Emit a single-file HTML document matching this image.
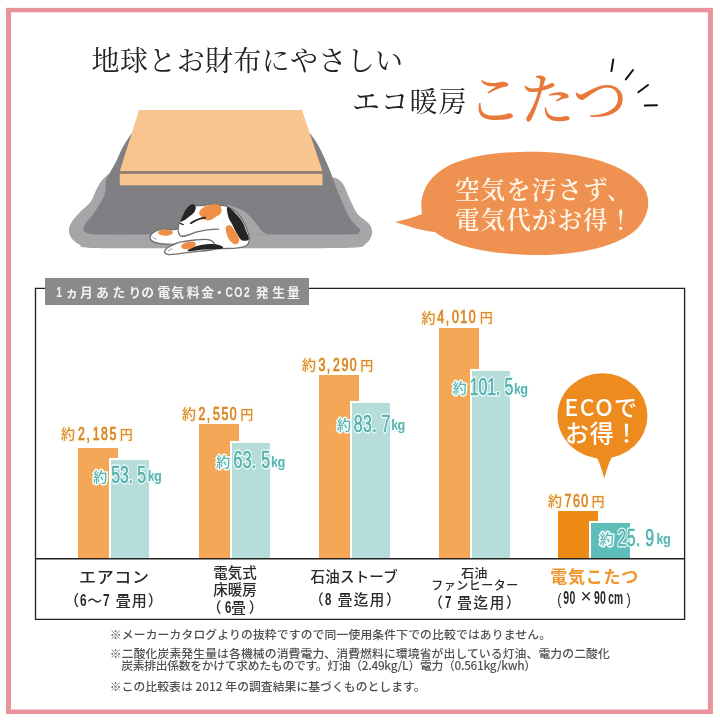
<!DOCTYPE html>
<html lang="ja">
<head>
<meta charset="utf-8">
<style>
html,body{margin:0;padding:0;}
body{width:720px;height:720px;position:relative;overflow:hidden;background:#fff;
  font-family:"Liberation Sans","Noto Sans CJK JP",sans-serif;color:#333;}
.abs{position:absolute;white-space:nowrap;}
.mincho{font-family:"Liberation Serif","Noto Serif CJK JP","Noto Serif CJK SC",serif;}
.bub{left:455px;top:175.5px;font-size:24.5px;line-height:30px;color:#FFF6E8;font-weight:600;letter-spacing:1.1px;}
.lbl{left:45px;top:278px;width:264px;height:27px;background:#8A8A8A;}
.bar{position:absolute;}
.ob{background:#F4A757;}
.tb{background:#B7DDDA;box-shadow:-2px 0 0 0 #fff,0 -2px 0 0 #fff,-2px -2px 0 0 #fff;}
.fi{position:absolute;white-space:nowrap;line-height:1.3;}
.sans{font-family:"Liberation Sans","Noto Sans CJK JP",sans-serif;}
.cd{display:inline-block;font-family:"Liberation Sans",sans-serif;font-weight:700;font-size:1.13em;transform:scaleX(0.7);transform-origin:0 0;width:0.415em;}
.cdp{display:inline-block;font-family:"Liberation Sans",sans-serif;font-size:1.13em;transform:scaleX(0.8);transform-origin:0 0;width:0.3em;}
.cjk{font-family:"Noto Sans CJK JP","Noto Sans CJK SC",sans-serif;}
</style>
</head>
<body>
<svg class="abs" style="left:0;top:0" width="720" height="720"><g fill="#E9949C"><rect x="6" y="7.9" width="707" height="4.4"/><rect x="6" y="709.5" width="707" height="4.5"/><rect x="6" y="7.9" width="5" height="706.1"/><rect x="707.9" y="7.9" width="5" height="706.1"/></g></svg>


<svg class="abs" style="left:0;top:0" width="720" height="720" viewBox="0 0 720 720">
  <!-- rays -->
  <g stroke="#111" stroke-width="2" stroke-linecap="round">
    <line x1="613.3" y1="59.4" x2="611.4" y2="71.1"/>
    <line x1="633" y1="70" x2="625.8" y2="79.4"/>
    <line x1="648" y1="85" x2="638.3" y2="92.2"/>
    <line x1="644.8" y1="105.6" x2="657" y2="105.2"/>
  </g>
<path d="M108.8,173.8 C107.5,175.0 103.3,178.5 101.2,181.2 C99.2,184.0 98.0,186.5 96.2,190.0 C94.5,193.5 93.0,198.5 90.5,202.0 C88.0,205.5 84.0,207.9 81.0,211.0 C78.0,214.1 74.5,217.8 72.5,220.8 C70.5,223.8 69.2,226.4 69.0,229.2 C68.8,232.0 69.4,235.0 71.1,237.5 C72.8,240.0 75.5,242.7 79.4,244.4 C83.3,246.1 74.6,247.3 94.7,247.9 C114.8,248.5 165.8,248.1 200.0,248.2 C234.2,248.2 274.2,248.3 300.0,248.2 C325.8,248.1 344.0,248.4 355.0,247.6 C366.0,246.8 363.2,245.4 366.0,243.5 C368.8,241.6 370.6,238.6 371.5,236.0 C372.4,233.4 372.3,230.4 371.5,228.0 C370.7,225.6 368.6,223.4 366.7,221.5 C364.8,219.6 361.9,218.2 360.0,216.5 C358.1,214.8 357.4,214.0 355.6,211.0 C353.9,208.0 351.6,202.9 349.5,198.5 C347.4,194.1 345.4,187.8 343.3,184.5 C341.2,181.2 339.0,179.8 337.0,178.6 C335.0,177.4 332.4,177.4 331.5,177.2 L326,184 L115,184 Z" fill="#A6A6A8"/>
  <path d="M132.5,131.9 C130.8,134.5 125.2,142.6 122.5,147.5 C119.8,152.4 118.4,157.1 116.3,161.3 C114.2,165.5 111.7,169.4 110.0,172.5 C108.3,175.6 107.1,176.6 106.2,180.0 C105.4,183.4 105.8,189.5 105.0,193.0 C104.2,196.5 103.5,197.5 101.5,201.0 C99.5,204.5 96.0,210.2 93.3,213.9 C90.6,217.7 87.1,220.8 85.5,223.5 C83.9,226.2 83.1,228.2 83.5,229.9 C83.9,231.6 85.0,232.6 88.0,233.4 C91.0,234.2 89.7,234.4 101.7,234.6 C113.7,234.8 139.9,234.6 160.0,234.6 C180.1,234.6 211.7,234.6 222.0,234.6 L268.9,234.5 L268.9,234.5 C274.1,234.5 286.0,234.5 300.0,234.5 C314.0,234.5 343.2,234.6 353.0,234.3 C362.8,234.0 357.7,233.4 358.8,232.5 C359.9,231.6 360.8,231.1 359.5,229.0 C358.2,226.9 353.7,224.1 351.0,220.0 C348.3,215.9 345.7,209.6 343.3,204.4 C340.9,199.2 338.8,194.2 336.7,189.0 C334.6,183.8 333.1,178.5 331.0,173.3 C328.9,168.1 326.6,162.6 324.4,157.8 C322.2,153.0 320.2,148.5 317.8,144.4 C315.4,140.3 311.3,135.2 310.0,133.3 L132.5,131.9 Z" fill="#807F84"/>
  <path d="M222.0,234.6 C222.2,231.3 222.2,219.8 223.0,215.0 C223.8,210.2 224.7,206.9 226.7,205.6 C228.7,204.3 232.4,206.4 235.0,207.2 C237.6,208.0 240.0,209.0 242.2,210.2 C244.4,211.4 246.3,213.1 248.0,214.5 C249.7,215.9 250.8,217.3 252.2,218.9 C253.6,220.5 255.2,222.3 256.5,224.0 C257.8,225.7 258.8,227.5 260.0,228.9 C261.2,230.3 262.5,231.6 264.0,232.5 C265.5,233.4 268.1,234.2 268.9,234.5 Z" fill="#A6A6A8"/>
  <path d="M139,110 L302,110 L322.5,171.2 L119.8,171.2 Z" fill="#F8C490"/>
  <rect x="119.8" y="171.2" width="202.7" height="2.6" fill="#927A72"/>
  <rect x="119.8" y="173.8" width="202.7" height="11.5" fill="#F8C490"/>
  <path d="M150.0,237.5 C150.1,236.0 151.4,233.9 153.3,232.5 C155.2,231.1 158.2,229.7 161.7,229.2 C165.2,228.7 171.4,229.8 174.2,229.6 C177.0,229.4 177.6,228.9 178.3,228.0 C179.0,227.1 178.1,225.2 178.5,224.0 C178.9,222.8 179.4,222.8 180.5,221.0 C181.6,219.2 183.3,215.7 185.0,213.0 C186.7,210.3 188.8,206.2 190.5,205.0 C192.2,203.8 192.9,205.4 195.0,205.5 C197.1,205.6 200.2,205.7 203.0,205.5 C205.8,205.3 208.6,204.2 211.7,204.2 C214.8,204.2 219.1,205.1 221.7,205.5 C224.3,205.9 225.0,205.4 227.5,206.6 C230.0,207.8 233.9,209.8 236.7,212.5 C239.4,215.2 242.1,219.1 244.0,222.5 C245.9,225.9 247.4,230.1 248.3,233.0 C249.2,235.9 249.7,237.9 249.4,240.0 C249.1,242.1 248.4,244.2 246.5,245.5 C244.6,246.8 241.8,247.3 238.0,247.8 C234.2,248.3 229.5,248.4 224.0,248.6 C218.5,248.8 210.7,249.1 205.0,249.2 C199.3,249.3 194.2,249.9 190.0,249.0 C185.8,248.1 182.9,244.6 180.0,243.8 C177.1,243.0 175.8,244.4 172.5,244.4 C169.2,244.4 163.2,244.1 160.0,243.6 C156.8,243.1 154.7,242.6 153.0,241.6 C151.3,240.6 149.9,239.0 150.0,237.5 Z" fill="#fff" stroke="#707070" stroke-width="1.3"/>
  <path d="M164.6,251.8 C164.6,250.7 166.1,248.9 167.5,247.8 C168.9,246.7 170.9,245.9 173.0,245.0 C175.1,244.1 176.3,243.0 180.0,242.2 C183.7,241.4 190.3,240.4 195.0,240.0 C199.7,239.6 204.8,239.1 208.0,239.6 C211.2,240.1 213.0,241.4 214.0,243.0 C215.0,244.6 216.3,247.9 214.0,249.3 C211.7,250.7 204.8,250.6 200.0,251.2 C195.2,251.8 189.2,252.3 185.0,252.8 C180.8,253.3 177.9,253.9 175.0,254.2 C172.1,254.5 169.2,254.8 167.5,254.4 C165.8,254.0 164.6,252.9 164.6,251.8 Z" fill="#fff" stroke="#707070" stroke-width="1.3"/>
  <path d="M180.8,221.5 C180.4,220.8 181.9,217.3 183.0,215.0 C184.1,212.7 185.9,209.3 187.5,207.5 C189.1,205.7 191.1,204.3 192.5,204.2 C193.9,204.1 195.5,205.7 195.8,207.0 C196.1,208.3 195.2,210.7 194.2,212.2 C193.2,213.7 191.4,214.8 190.0,216.0 C188.6,217.2 187.0,218.6 185.5,219.5 C184.0,220.4 181.2,222.2 180.8,221.5 Z" fill="#252525"/>
  <path d="M199.2,212.6 C199.3,210.6 201.7,208.4 204.0,207.0 C206.3,205.6 210.6,204.6 213.3,204.3 C216.0,204.1 218.7,204.2 220.0,205.5 C221.3,206.8 221.9,210.4 221.3,212.2 C220.8,214.0 218.7,215.0 216.7,216.3 C214.7,217.7 211.4,219.9 209.2,220.3 C207.0,220.7 205.0,220.1 203.3,218.8 C201.6,217.5 199.1,214.6 199.2,212.6 Z" fill="#EF8F45"/>
  <path d="M227.5,207.0 C228.9,206.6 234.2,212.0 236.7,214.5 C239.2,217.0 241.0,219.6 242.5,222.0 C244.0,224.4 244.5,226.3 245.5,229.2 C246.5,232.1 249.4,237.4 248.8,239.2 C248.1,241.0 243.7,241.2 241.7,240.2 C239.7,239.2 238.1,235.7 236.5,233.0 C234.9,230.3 233.4,226.7 232.0,224.0 C230.6,221.3 229.1,219.5 228.3,216.7 C227.6,213.9 226.1,207.4 227.5,207.0 Z" fill="#252525"/>
  <path d="M225.8,227.5 C226.2,225.6 228.6,224.6 230.0,225.0 C231.4,225.4 232.9,228.2 234.2,230.0 C235.5,231.8 237.2,234.2 238.0,236.0 C238.8,237.8 239.4,239.1 239.2,240.5 C239.0,241.9 237.9,243.9 236.7,244.2 C235.4,244.5 233.2,243.8 231.7,242.5 C230.2,241.2 228.5,239.0 227.5,236.5 C226.5,234.0 225.4,229.4 225.8,227.5 Z" fill="#EF8F45"/>
  <path d="M187.5,250.7 C188.0,250.0 192.1,247.6 195.0,246.6 C197.9,245.6 201.5,244.8 205.0,244.4 C208.5,244.0 212.9,243.8 215.8,244.2 C218.7,244.5 221.6,245.8 222.5,246.5 C223.4,247.2 223.9,248.2 221.0,248.7 C218.1,249.2 209.8,249.2 205.0,249.6 C200.2,250.0 194.9,250.8 192.0,251.0 C189.1,251.2 187.0,251.4 187.5,250.7 Z" fill="#252525"/>
  <ellipse cx="165.5" cy="232.6" rx="7.5" ry="3.2" fill="#EF8F45"/>
  <ellipse cx="188.5" cy="245.4" rx="7.5" ry="3.6" transform="rotate(-12 188.5 245.4)" fill="#EF8F45"/>
  <path d="M178.6,225.2 C177.6,229.5 178,233 180,235.5 C182,237.6 186,236.2 195,232.4 C203,230.2 211,229.4 218.5,229.2" stroke="#707070" stroke-width="1.3" fill="none" stroke-linecap="round"/>
  <path d="M190.8,223.2 C195,220.3 200,218.2 205.2,217.6" stroke="#222" stroke-width="1.7" fill="none" stroke-linecap="round"/>
  <path d="M180.2,223.4 L183.2,224.6" stroke="#222" stroke-width="1.4" fill="none" stroke-linecap="round"/>
  <path d="M152.5,237 C153.5,238.5 155,239 156.5,239" stroke="#8a8a8a" stroke-width="0.9" fill="none"/>
  <path d="M168,251 C169.5,249.5 171,249 172.5,249" stroke="#8a8a8a" stroke-width="0.9" fill="none"/>
  <!-- speech bubble -->
  <path d="M395,222 C405,220 414,217 422,214 C419,196 426,176 452,164 C480,152 520,151 545,152 C590,154 625,166 641,184 C652,196 650,214 638,228 C620,246 580,255 540,255 C495,255 455,248 435,232 C422,231 408,226 395,222 Z" fill="#EF9151"/>

  <!-- ECO bubble -->
  <ellipse cx="602.5" cy="415.8" rx="45" ry="42.6" fill="#EE8B1F"/><path d="M595.5,455 L599,462 Q602,470 604.3,478.5 Q606.5,470 609.5,462 L613,455 Z" fill="#EE8B1F"/>
</svg>

<div class="abs mincho bub">空気を汚さず、<br>電気代がお得！</div>

<div class="lbl abs"></div>
<svg class="abs" style="left:0;top:0" width="720" height="720" viewBox="0 0 720 720"><text x="65.4 79.9 96.1 112.4 128.6 141.2 157.5 171.2 186.7 201.3 255.8 272.3 286.9" y="296.6" font-size="12.8" fill="#F2F2F2" font-weight="700" font-family="'Noto Sans CJK JP',sans-serif">ヵ月あたりの電気料金発生量</text><text x="213.1" y="296.6" font-size="12.8" fill="#F2F2F2" font-weight="700" font-family="'Noto Sans CJK JP',sans-serif">・</text><g transform="scale(0.72,1)"><text x="78.2 313.2 325.4 338.9" y="297" font-size="14.5" font-weight="700" fill="#F2F2F2" font-family="'Liberation Sans',sans-serif">1CO2</text></g></svg>

<!-- bars -->
<div class="bar ob" style="left:78px;top:448px;width:40px;height:111px;"></div>
<div class="bar tb" style="left:111px;top:460px;width:38px;height:99px;"></div>
<div class="bar ob" style="left:199px;top:424px;width:40px;height:135px;"></div>
<div class="bar tb" style="left:232px;top:443px;width:38px;height:116px;"></div>
<div class="bar ob" style="left:319px;top:375px;width:40px;height:184px;"></div>
<div class="bar tb" style="left:351.5px;top:403px;width:38.5px;height:156px;"></div>
<div class="bar ob" style="left:438.5px;top:327.5px;width:40px;height:231.5px;"></div>
<div class="bar tb" style="left:471.5px;top:370.5px;width:38.5px;height:188.5px;"></div>
<div class="bar" style="left:558.3px;top:511px;width:39.6px;height:48px;background:#EE8B14;"></div>
<div class="bar" style="left:591px;top:522.5px;width:38.6px;height:36.5px;background:#5DBDB8;box-shadow:-2px 0 0 0 #fff,0 -2px 0 0 #fff,-2px -2px 0 0 #fff;"></div>

<!-- chart frame -->
<svg class="abs" style="left:0;top:0" width="720" height="720"><g stroke="#222" fill="none">
<path d="M45,288.3 H35.5 V619.3 H684.6 V288.3 H309" stroke-width="1.35"/>
<path d="M35.5,558.8 H684.6" stroke-width="1.6"/>
</g></svg>

<!-- value labels -->
<svg class="abs" style="left:0;top:0" width="720" height="720" viewBox="0 0 720 720">
<style>
.ok{font-family:"Liberation Sans","Noto Sans CJK JP",sans-serif;font-weight:500;fill:#D98A30;stroke:#FFF8E6;stroke-width:3;paint-order:stroke;stroke-linejoin:round;}
.od{font-family:"Liberation Sans",sans-serif;font-weight:400;fill:#D98A30;stroke:#FFF8E6;stroke-width:3;paint-order:stroke;stroke-linejoin:round;}
.tk{font-family:"Liberation Sans","Noto Sans CJK JP",sans-serif;font-weight:500;fill:#5EB2AE;stroke:#F0FFFF;stroke-width:3;paint-order:stroke;stroke-linejoin:round;}
.td{font-family:"Liberation Sans",sans-serif;font-weight:400;fill:#5EB2AE;stroke:#F0FFFF;stroke-width:3;paint-order:stroke;stroke-linejoin:round;}
.tkg{font-family:"Liberation Sans",sans-serif;font-weight:700;fill:#5EB2AE;stroke:#F0FFFF;stroke-width:3;paint-order:stroke;stroke-linejoin:round;}
.od.em{stroke:#D98A30;stroke-width:0.45;vector-effect:non-scaling-stroke;}
.td.em{stroke:#5EB2AE;stroke-width:0.25;vector-effect:non-scaling-stroke;}
</style>
<text class="ok" x="60.9" y="439.0" font-size="14">約</text>
<text class="od" transform="scale(0.65,1)" x="120.15 133.08 142.62 155.54 168.46" y="440.0" font-size="19.0">2,185</text><text class="od em" transform="scale(0.65,1)" x="120.15 133.08 142.62 155.54 168.46" y="440.0" font-size="19.0">2,185</text>
<text class="ok" x="119.7" y="439.0" font-size="13">円</text>
<text class="ok" x="182.0" y="419.0" font-size="14">約</text>
<text class="od" transform="scale(0.65,1)" x="305.23 318.15 327.69 340.62 353.54" y="420.0" font-size="19.0">2,550</text><text class="od em" transform="scale(0.65,1)" x="305.23 318.15 327.69 340.62 353.54" y="420.0" font-size="19.0">2,550</text>
<text class="ok" x="240.3" y="418.7" font-size="13">円</text>
<text class="ok" x="302.0" y="370.1" font-size="14">約</text>
<text class="od" transform="scale(0.65,1)" x="489.85 502.77 512.31 525.23 538.15" y="371.1" font-size="19.0">3,290</text><text class="od em" transform="scale(0.65,1)" x="489.85 502.77 512.31 525.23 538.15" y="371.1" font-size="19.0">3,290</text>
<text class="ok" x="360.3" y="369.7" font-size="13">円</text>
<text class="ok" x="421.4" y="322.5" font-size="14">約</text>
<text class="od" transform="scale(0.65,1)" x="672.77 685.69 695.23 708.15 721.08" y="323.0" font-size="19.0">4,010</text><text class="od em" transform="scale(0.65,1)" x="672.77 685.69 695.23 708.15 721.08" y="323.0" font-size="19.0">4,010</text>
<text class="ok" x="479.8" y="322.0" font-size="13">円</text>
<text class="ok" x="548.1" y="506.2" font-size="14">約</text>
<text class="od" transform="scale(0.65,1)" x="868.46 881.38 894.31" y="507.2" font-size="19.0">760</text><text class="od em" transform="scale(0.65,1)" x="868.46 881.38 894.31" y="507.2" font-size="19.0">760</text>
<text class="ok" x="591.4" y="506.2" font-size="13">円</text>
<text class="tk" x="93.3" y="481.5" font-size="14">約</text>
<text class="td" transform="scale(0.66,1)" x="168.48 181.67 194.85 208.03" y="482.6" font-size="24">53.5</text><text class="td em" transform="scale(0.66,1)" x="168.48 181.67 194.85 208.03" y="482.6" font-size="24">53.5</text>
<text class="tkg" transform="scale(0.85,1)" x="173.76 181.18" y="481.0" font-size="15">kg</text>
<text class="tk" x="216.2" y="466.7" font-size="14">約</text>
<text class="td" transform="scale(0.66,1)" x="353.79 367.83 381.87 395.91" y="468.3" font-size="24">63.5</text><text class="td em" transform="scale(0.66,1)" x="353.79 367.83 381.87 395.91" y="468.3" font-size="24">63.5</text>
<text class="tkg" transform="scale(0.85,1)" x="318.94 326.35" y="466.6" font-size="15">kg</text>
<text class="tk" x="337.0" y="430.1" font-size="14">約</text>
<text class="td" transform="scale(0.66,1)" x="535.91 549.95 563.99 578.03" y="431.7" font-size="24">83.7</text><text class="td em" transform="scale(0.66,1)" x="535.91 549.95 563.99 578.03" y="431.7" font-size="24">83.7</text>
<text class="tkg" transform="scale(0.85,1)" x="460.35 467.76" y="429.9" font-size="15">kg</text>
<text class="tk" x="452.8" y="393.4" font-size="14">約</text>
<text class="td" transform="scale(0.66,1)" x="711.82 724.96 738.11 751.25 764.39" y="395.0" font-size="24">101.5</text><text class="td em" transform="scale(0.66,1)" x="711.82 724.96 738.11 751.25 764.39" y="395.0" font-size="24">101.5</text>
<text class="tkg" transform="scale(0.85,1)" x="604.71 612.12" y="394.1" font-size="15">kg</text>
<text class="tk" x="599.8" y="544.0" font-size="14">約</text>
<text class="td" transform="scale(0.66,1)" x="935.45 949.55 963.64 977.73" y="545.6" font-size="24">25.9</text><text class="td em" transform="scale(0.66,1)" x="935.45 949.55 963.64 977.73" y="545.6" font-size="24">25.9</text>
<text class="tkg" transform="scale(0.85,1)" x="772.47 779.88" y="544.1" font-size="15">kg</text>
</svg>

<svg class="abs" style="left:0;top:0" width="720" height="720"><g fill="#2a2a2a" font-family="'Liberation Sans',sans-serif"><text transform="scale(0.8,1)" x="696.50" y="604.9" font-size="16">(</text><text transform="scale(0.6,1)" x="938.80" y="604.1" font-size="17.5" font-weight="700">9</text><text transform="scale(0.6,1)" x="949.21" y="604.1" font-size="17.5" font-weight="700">0</text><text transform="scale(0.95,1)" x="611.11" y="603.3000000000001" font-size="20">×</text><text transform="scale(0.6,1)" x="989.88" y="604.1" font-size="17.5" font-weight="700">9</text><text transform="scale(0.6,1)" x="1000.21" y="604.1" font-size="17.5" font-weight="700">0</text><text transform="scale(0.58,1)" x="1048.87" y="604.1" font-size="17.5" font-weight="700">cm</text><text transform="scale(0.8,1)" x="782.99" y="604.9" font-size="16">)</text></g></svg>
<div id="t1" class="fi mincho" style="left:91.60px;top:44.10px;font-size:28px;font-weight:400;letter-spacing:0.350px;color:#222;">地球とお財布にやさしい</div>
<div id="t2" class="fi mincho" style="left:352.00px;top:84.80px;font-size:28px;font-weight:400;letter-spacing:0.800px;color:#222;">エコ暖房</div>
<div id="kot" class="fi mincho" style="left:467.25px;top:65.00px;font-size:55px;font-weight:500;letter-spacing:-2.375px;color:#E8793A;">こたつ</div>
<div id="eco1" class="fi cjk" style="left:564.50px;top:392.00px;font-size:23px;font-weight:500;letter-spacing:1.433px;color:#FFFFFF;">ECOで</div>
<div id="eco2" class="fi cjk" style="left:564.90px;top:415.90px;font-size:24px;font-weight:500;letter-spacing:0.800px;color:#FFFFFF;">お得！</div>
<div id="x1a" class="fi sans" style="left:79.17px;top:568.08px;font-size:15.5px;font-weight:500;letter-spacing:0.526px;color:#2a2a2a;transform:scaleX(1.1);transform-origin:0 0;">エアコン</div>
<div id="x1b" class="fi sans" style="left:64.25px;top:589.50px;font-size:15px;font-weight:500;letter-spacing:1.071px;color:#2a2a2a;">（<span class="cd">6</span>〜<span class="cd">7</span> 畳用）</div>
<div id="x2a" class="fi sans" style="left:213.28px;top:563.62px;font-size:14.5px;font-weight:500;letter-spacing:0.050px;color:#2a2a2a;">電気式</div>
<div id="x2b" class="fi sans" style="left:213.28px;top:580.82px;font-size:14.5px;font-weight:500;letter-spacing:0.050px;color:#2a2a2a;">床暖房</div>
<div id="x2c" class="fi sans" style="left:207.07px;top:597.17px;font-size:14.5px;font-weight:500;letter-spacing:2.933px;color:#2a2a2a;">（<span class="cd">6</span>畳）</div>
<div id="x3a" class="fi sans" style="left:310.48px;top:567.82px;font-size:14.5px;font-weight:500;letter-spacing:0.220px;color:#2a2a2a;">石油ストーブ</div>
<div id="x3b" class="fi sans" style="left:309.27px;top:588.82px;font-size:14.5px;font-weight:500;letter-spacing:1.567px;color:#2a2a2a;">（<span class="cd">8</span> 畳迄用）</div>
<div id="x4a" class="fi sans" style="left:461.12px;top:566.82px;font-size:12px;font-weight:500;letter-spacing:0.000px;color:#2a2a2a;transform:scaleX(1.1);transform-origin:0 0;">石油</div>
<div id="x4b" class="fi sans" style="left:431.32px;top:579.32px;font-size:12px;font-weight:500;letter-spacing:0.507px;color:#2a2a2a;">ファンヒーター</div>
<div id="x4c" class="fi sans" style="left:428.48px;top:592.37px;font-size:14.5px;font-weight:500;letter-spacing:1.750px;color:#2a2a2a;">（<span class="cd">7</span> 畳迄用）</div>
<div id="x5a" class="fi sans" style="left:550.15px;top:566.75px;font-size:17px;font-weight:700;letter-spacing:0.800px;color:#F0962E;">電気こたつ</div>
<div id="f1" class="fi cjk" style="left:109.81px;top:626.25px;font-size:11.8px;font-weight:500;letter-spacing:0.147px;color:#505050;">※メーカーカタログよりの抜粋ですので同一使用条件下での比較ではありません。</div>
<div id="f2" class="fi cjk" style="left:109.81px;top:645.15px;font-size:11.8px;font-weight:500;letter-spacing:0.120px;color:#505050;">※二酸化炭素発生量は各機械の消費電力、消費燃料に環境省が出している灯油、電力の二酸化</div>
<div id="f3" class="fi cjk" style="left:121.21px;top:657.05px;font-size:11.8px;font-weight:500;letter-spacing:-0.284px;color:#505050;">炭素排出係数をかけて求めたものです。灯油（2.49kg/L）電力（0.561kg/kwh）</div>
<div id="f4" class="fi cjk" style="left:109.81px;top:678.15px;font-size:11.8px;font-weight:500;letter-spacing:0.055px;color:#505050;">※この比較表は 2012 年の調査結果に基づくものとします。</div>
</body>
</html>
